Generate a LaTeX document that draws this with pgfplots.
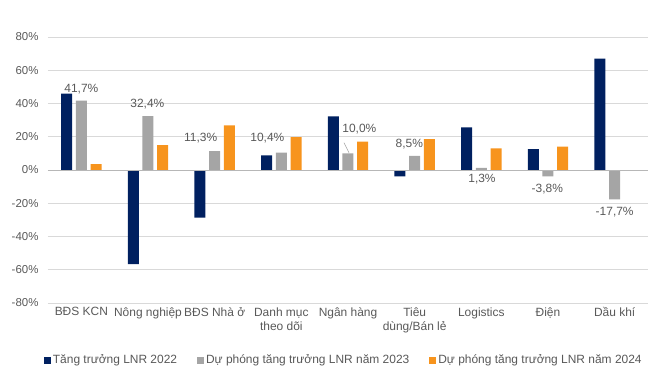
\documentclass[border=0pt]{standalone}
\usepackage{pgfplots}
\pgfplotsset{compat=1.18}
\usepackage{fontspec}
\setmainfont{Liberation Sans}
\definecolor{cnavy}{HTML}{002060}
\definecolor{cgray}{HTML}{A5A5A5}
\definecolor{corange}{HTML}{F7941D}
\definecolor{ctext}{HTML}{595959}
\definecolor{cgrid}{HTML}{D9D9D9}
\begin{document}
\begin{tikzpicture}
\useasboundingbox (-48bp,-74bp) rectangle (613bp,303bp);
\begin{axis}[
  scale only axis, width=600bp, height=266bp,
  ybar=3.7bp, bar width=11bp,
  xmin=-0.5, xmax=8.5, ymin=-80, ymax=80,
  xtick=data,
  xticklabels={BĐS KCN, Nông nghiệp, BĐS Nhà ở, {Danh mục\\theo dõi}, Ngân hàng, {Tiêu\\dùng/Bán lẻ}, Logistics, Điện, Dầu khí},
  ytick={-80,-60,...,80},
  yticklabel={\pgfmathprintnumber{\tick}\%},
  /pgf/number format/assume math mode=true,
  axis line style={draw=none},
  major tick length=0,
  ymajorgrids, grid style={cgrid, line width=0.8bp},
  tick label style={text=ctext},
  yticklabel style={font=\fontsize{11.5}{14}\selectfont, xshift=-6bp},
  xticklabel style={font=\fontsize{12}{14}\selectfont, align=center, yshift=-1bp},
  legend columns=3,
  legend style={at={(0.493,-0.215)}, anchor=center, draw=none, font=\fontsize{12}{13}\selectfont, text=ctext, /tikz/every even column/.append style={column sep=18bp}},
  legend image code/.code={\fill[#1,draw=none] (0bp,-3.5bp) rectangle (7bp,3.5bp);},
]
\addplot[fill=cnavy, draw=none] coordinates {(0,46) (1,-56.6) (2,-28.6) (3,8.8) (4,32.2) (5,-3.8) (6,25.6) (7,12.6) (8,67)};
\addplot[fill=cgray, draw=none] coordinates {(0,41.7) (1,32.4) (2,11.3) (3,10.4) (4,10.0) (5,8.5) (6,1.3) (7,-3.8) (8,-17.7)};
\addplot[fill=corange, draw=none] coordinates {(0,3.6) (1,15) (2,26.8) (3,19.8) (4,17) (5,18.6) (6,13) (7,14) (8,-0.6)};
\legend{Tăng trưởng LNR 2022, Dự phóng tăng trưởng LNR năm 2023, Dự phóng tăng trưởng LNR năm 2024}
\draw[cgray!80] (axis cs:-0.5,0) -- (axis cs:8.5,0);
\begin{scope}[every node/.style={font=\fontsize{12}{13}\selectfont, text=ctext}]
\node at (axis cs:0,48.6) {41,7\%};
\node at (axis cs:0.99,39.6) {32,4\%};
\node at (axis cs:1.79,19) {11,3\%};
\node at (axis cs:2.79,19) {10,4\%};
\node at (axis cs:4.17,24.8) {10,0\%};
\node at (axis cs:4.92,15.6) {8,5\%};
\node at (axis cs:6.01,-5.6) {1,3\%};
\node at (axis cs:6.99,-11.4) {-3,8\%};
\node at (axis cs:8.0,-25.4) {-17,7\%};
\end{scope}
\draw[cgray, line width=0.6bp] (axis cs:3.94,16.4) -- (axis cs:4.015,10.4);
\end{axis}
\end{tikzpicture}
\end{document}
